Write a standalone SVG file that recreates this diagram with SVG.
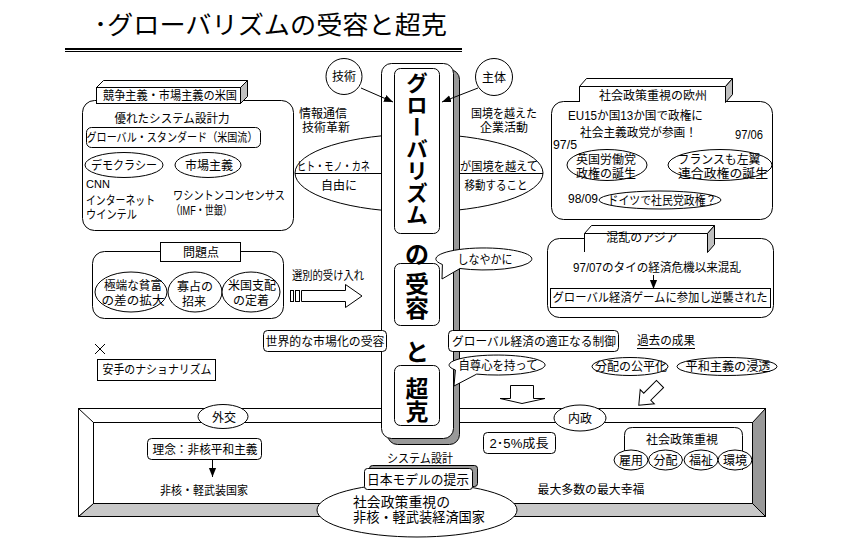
<svg xmlns="http://www.w3.org/2000/svg" width="844" height="542" viewBox="0 0 844 542">
<style>
text{font-family:'Liberation Sans','Noto Sans CJK JP','Noto Sans CJK SC',sans-serif;font-size:12px;fill:#000}
.m{text-anchor:middle}
.b{fill:#fff;stroke:#000;stroke-width:1}
.n{fill:none;stroke:#000;stroke-width:1}
.g{fill:#c0c0c0;stroke:#000;stroke-width:1}
.d{fill:#999;stroke:#000;stroke-width:1}
.bd{font-family:'Noto Sans CJK JP',sans-serif;font-weight:bold}
.v{writing-mode:vertical-rl}
</style>
<defs>
<marker id="ah" viewBox="0 0 10 10" refX="10" refY="5" markerWidth="9" markerHeight="9" orient="auto" markerUnits="userSpaceOnUse"><path d="M0,1 L10,5 L0,9 Z" fill="#000"/></marker>
</defs>
<rect width="844" height="542" fill="#fff"/>

<g id="title">
<text x="94" y="34" style="font-size:25px;font-family:'Noto Sans CJK JP',sans-serif" textLength="353" lengthAdjust="spacingAndGlyphs">･グローバリズムの受容と超克</text>
<rect x="65" y="48" width="397" height="2" fill="#000"/>
<rect x="65" y="51" width="397" height="1" fill="#000"/>
</g>

<g id="frame">
<rect x="78.5" y="408.5" width="687" height="108" class="b"/>
<polygon points="78.5,516.5 93.5,503.5 752.5,503.5 765.5,516.5" fill="#c8c8c8" stroke="#000"/>
<polygon points="765.5,408.5 765.5,516.5 752.5,503.5 752.5,422.5" class="d"/>
<polygon points="78.5,408.5 93.5,422.5 93.5,503.5 78.5,516.5" class="b"/>
<rect x="93.5" y="422.5" width="659" height="81" class="b"/>
</g>

<g id="flow-ellipse">
<ellipse cx="419" cy="173" rx="124" ry="39" class="b"/>
<line x1="295" y1="173.5" x2="543" y2="173.5" class="n"/>
<text x="297" y="171" textLength="73" lengthAdjust="spacingAndGlyphs">ヒト・モノ・カネ</text>
<text x="339" y="189.5" class="m">自由に</text>
<text x="460" y="171" textLength="78" lengthAdjust="spacingAndGlyphs">が国境を越えて</text>
<text x="496" y="189.5" class="m" textLength="63" lengthAdjust="spacingAndGlyphs">移動すること</text>
</g>

<g id="column">
<rect x="387.5" y="69.5" width="72" height="375" rx="10" class="d"/>
<rect x="381.5" y="63.5" width="72" height="375" rx="10" class="b"/>
<rect x="394.5" y="68.5" width="45" height="165" rx="6" class="b"/>
<rect x="394.5" y="263.5" width="45" height="62" rx="6" class="b"/>
<rect x="394.5" y="365.5" width="45" height="60" rx="6" class="b"/>
<text x="417" y="72" class="bd v" style="font-size:22px">グローバリズム</text>
<text x="417" y="263" class="bd m" style="font-size:24px">の</text>
<text x="417" y="272" class="bd v" style="font-size:24px">受容</text>
<text x="417" y="361" class="bd m" style="font-size:24px">と</text>
<text x="417" y="377" class="bd v" style="font-size:23px">超克</text>
</g>

<g id="gijutsu">
<circle cx="344" cy="76.5" r="18" class="b"/>
<text x="344" y="81" class="m">技術</text>
</g>
<g id="shutai">
<circle cx="494" cy="77" r="18.5" class="b"/>
<text x="494" y="81.5" class="m">主体</text>
</g>
<g id="tech-text">
<text x="323" y="117.5" class="m">情報通信</text>
<text x="326" y="131.5" class="m">技術革新</text>
</g>
<g id="corp-text">
<text x="504" y="117.5" class="m" textLength="66" lengthAdjust="spacingAndGlyphs">国境を越えた</text>
<text x="504" y="131.5" class="m">企業活動</text>
</g>

<g id="usa">
<rect x="82.5" y="100.5" width="211" height="130" rx="12" class="b"/>
<polygon points="96.5,87.5 103.5,80.5 247.5,80.5 240.5,87.5" class="b"/>
<polygon points="240.5,87.5 247.5,80.5 247.5,96.5 240.5,103.5" class="g"/>
<rect x="96.5" y="87.5" width="144" height="16" class="b"/>
<text x="170" y="99.5" class="m" textLength="134" lengthAdjust="spacingAndGlyphs">競争主義・市場主義の米国</text>
<text x="172" y="122.5" class="m" textLength="115" lengthAdjust="spacingAndGlyphs">優れたシステム設計力</text>
<rect x="86.5" y="127.5" width="174" height="20" rx="5" class="b"/>
<text x="172" y="141.5" class="m" textLength="171" lengthAdjust="spacingAndGlyphs">グローバル・スタンダード（米国流）</text>
<ellipse cx="124" cy="165" rx="39" ry="12.5" class="b"/>
<text x="124" y="169.5" class="m" textLength="66" lengthAdjust="spacingAndGlyphs">デモクラシー</text>
<ellipse cx="208" cy="165" rx="33" ry="12.5" class="b"/>
<text x="209" y="169.5" class="m">市場主義</text>
<text x="86" y="188" style="font-size:11px">CNN</text>
<text x="86" y="204.5" textLength="69" lengthAdjust="spacingAndGlyphs">インターネット</text>
<text x="86" y="218.5" textLength="51" lengthAdjust="spacingAndGlyphs">ウインテル</text>
<text x="173" y="199.5" textLength="112" lengthAdjust="spacingAndGlyphs">ワシントンコンセンサス</text>
<text x="171" y="214.5" textLength="61" lengthAdjust="spacingAndGlyphs">（IMF・世銀）</text>
</g>

<g id="europe">
<rect x="551.5" y="101.5" width="221" height="118" rx="12" class="b"/>
<polygon points="579.5,86.5 586.5,78.5 732.5,78.5 725.5,86.5" class="b"/>
<polygon points="725.5,86.5 732.5,78.5 732.5,94.5 725.5,102.5" class="g"/>
<path d="M579.5,102 V86.5 H725.5 V102" class="b"/>
<text x="653" y="99.5" class="m">社会政策重視の欧州</text>
<text x="568" y="119.5" textLength="135" lengthAdjust="spacingAndGlyphs">EU15か国13か国で政権に</text>
<text x="580" y="136.5" textLength="117" lengthAdjust="spacingAndGlyphs">社会主義政党が参画！</text>
<text x="735" y="139" textLength="28" lengthAdjust="spacingAndGlyphs">97/06</text>
<text x="553" y="149" textLength="24" lengthAdjust="spacingAndGlyphs">97/5</text>
<ellipse cx="607" cy="165" rx="40" ry="15.5" class="b"/>
<text x="606" y="163.5" class="m">英国労働党</text>
<text x="606" y="178" class="m">政権の誕生</text>
<ellipse cx="720" cy="165" rx="52" ry="15.5" class="b"/>
<text x="719" y="163.5" class="m" textLength="83" lengthAdjust="spacingAndGlyphs">フランスも左翼</text>
<text x="723" y="178" class="m" textLength="90" lengthAdjust="spacingAndGlyphs">連合政権の誕生</text>
<text x="568" y="203" textLength="30" lengthAdjust="spacingAndGlyphs">98/09</text>
<ellipse cx="660" cy="200" rx="61" ry="9" class="b"/>
<text x="662" y="204.5" class="m" textLength="109" lengthAdjust="spacingAndGlyphs">ドイツで社民党政権？</text>
</g>

<g id="asia">
<rect x="547.5" y="238.5" width="226" height="79" rx="12" class="b"/>
<polygon points="584.5,233.5 591.5,225.5 714.5,225.5 707.5,233.5" class="b"/>
<polygon points="707.5,233.5 714.5,225.5 714.5,244.5 707.5,252.5" class="g"/>
<path d="M584.5,252 V233.5 H707.5 V252" class="b"/>
<rect x="585" y="239" width="122" height="2" fill="#fff"/>
<text x="642" y="241.5" class="m">混乱のアジア</text>
<text x="657" y="271.5" class="m" textLength="168" lengthAdjust="spacingAndGlyphs">97/07のタイの経済危機以来混乱</text>
<rect x="550.5" y="288.5" width="220" height="19" class="b"/>
<text x="660" y="302" class="m" textLength="215" lengthAdjust="spacingAndGlyphs">グローバル経済ゲームに参加し逆襲された</text>
</g>

<g id="problems">
<rect x="92.5" y="251.5" width="191" height="67" rx="12" class="b"/>
<rect x="160.5" y="242.5" width="80" height="19" class="b"/>
<text x="201" y="256.5" class="m">問題点</text>
<ellipse cx="131" cy="292" rx="36" ry="20" class="b"/>
<text x="133" y="290" class="m" textLength="58" lengthAdjust="spacingAndGlyphs">極端な貧富</text>
<text x="133" y="305" class="m" textLength="63" lengthAdjust="spacingAndGlyphs">の差の拡大</text>
<ellipse cx="195" cy="292" rx="27" ry="20" class="b"/>
<text x="195" y="290.5" class="m">寡占の</text>
<text x="194" y="305.5" class="m">招来</text>
<ellipse cx="251" cy="292" rx="29" ry="20" class="b"/>
<text x="252" y="290" class="m">米国支配</text>
<text x="251" y="305" class="m">の定着</text>
</g>

<g id="selective">
<text x="292" y="279.5" textLength="72" lengthAdjust="spacingAndGlyphs">選別的受け入れ</text>
</g>

<g id="cross">
<line x1="95" y1="344" x2="105" y2="354" class="n"/>
<line x1="95" y1="354" x2="105" y2="344" class="n"/>
</g>
<g id="nationalism">
<rect x="97.5" y="359.5" width="118" height="21" class="b"/>
<text x="157" y="374" class="m" textLength="109" lengthAdjust="spacingAndGlyphs">安手のナショナリズム</text>
</g>

<g id="market">
<rect x="263.5" y="330.5" width="123" height="21" rx="4" class="b"/>
<text x="325" y="345.5" class="m" textLength="119" lengthAdjust="spacingAndGlyphs">世界的な市場化の受容</text>
</g>

<g id="control">
<rect x="448.5" y="330.5" width="170" height="21" rx="4" class="b"/>
<text x="534" y="345.5" class="m" textLength="164" lengthAdjust="spacingAndGlyphs">グローバル経済の適正なる制御</text>
</g>

<g id="flexible">
<path d="M460,268.5 A48,11 0 1 0 442.4,264.5 L442,279 Z" class="b"/>
<text x="485" y="264" class="m" textLength="55" lengthAdjust="spacingAndGlyphs">しなやかに</text>
</g>

<g id="pride">
<path d="M476.7,374.1 A48,10 0 1 0 455.4,370 L454,386 Z" class="b"/>
<text x="498" y="370" class="m" textLength="79" lengthAdjust="spacingAndGlyphs">自尊心を持って</text>
</g>

<g id="past">
<text x="666" y="344.5" class="m" textLength="58" lengthAdjust="spacingAndGlyphs">過去の成果</text>
<line x1="637" y1="348.5" x2="695" y2="348.5" class="n"/>
</g>
<g id="fair">
<ellipse cx="630" cy="366.5" rx="38" ry="9" class="b"/>
<text x="631" y="371" class="m" textLength="72" lengthAdjust="spacingAndGlyphs">分配の公平化</text>
</g>
<g id="peace">
<ellipse cx="727" cy="366.5" rx="50" ry="9" class="b"/>
<text x="728" y="371" class="m" textLength="85" lengthAdjust="spacingAndGlyphs">平和主義の浸透</text>
</g>

<g id="gaikou">
<ellipse cx="223" cy="416.5" rx="25" ry="12" class="b"/>
<text x="224" y="421.5" class="m">外交</text>
</g>
<g id="naisei">
<ellipse cx="580" cy="418" rx="26" ry="13" class="b"/>
<text x="580" y="422.5" class="m">内政</text>
</g>
<g id="rinen">
<rect x="147.5" y="438.5" width="114" height="21" rx="4" class="b"/>
<text x="205" y="453.5" class="m" textLength="105" lengthAdjust="spacingAndGlyphs">理念：非核平和主義</text>
</g>
<g id="hikaku">
<text x="204" y="494.5" class="m" textLength="88" lengthAdjust="spacingAndGlyphs">非核・軽武装国家</text>
</g>
<g id="growth">
<rect x="483.5" y="432.5" width="72" height="21" rx="4" class="b"/>
<text x="519" y="447.5" class="m" textLength="59" lengthAdjust="spacingAndGlyphs">2･5%成長</text>
</g>
<g id="social">
<path d="M624.5,470 V435.5 Q624.5,427.5 632.5,427.5 H734.5 Q742.5,427.5 742.5,435.5 V470" class="b"/>
<text x="682" y="443.5" class="m">社会政策重視</text>
<ellipse cx="631" cy="460" rx="17" ry="10" class="b"/>
<text x="631" y="464.5" class="m">雇用</text>
<ellipse cx="665.5" cy="460" rx="17" ry="10" class="b"/>
<text x="665.5" y="464.5" class="m">分配</text>
<ellipse cx="701" cy="460" rx="17" ry="10" class="b"/>
<text x="701" y="464.5" class="m">福祉</text>
<ellipse cx="735" cy="460" rx="17" ry="10" class="b"/>
<text x="735" y="464.5" class="m">環境</text>
</g>
<g id="happiness">
<text x="591" y="493.5" class="m" textLength="107" lengthAdjust="spacingAndGlyphs">最大多数の最大幸福</text>
</g>

<g id="japan">
<ellipse cx="417" cy="510" rx="100" ry="27" class="b"/>
<text x="420" y="462.5" class="m" textLength="66" lengthAdjust="spacingAndGlyphs">システム設計</text>
<rect x="369.5" y="465.5" width="108" height="21" rx="3" class="d"/>
<rect x="364.5" y="468.5" width="108" height="21" rx="3" class="b"/>
<text x="418" y="483.5" class="m" style="font-size:13px" textLength="102" lengthAdjust="spacingAndGlyphs">日本モデルの提示</text>
<text x="353" y="506.5" style="font-size:14px" textLength="97" lengthAdjust="spacingAndGlyphs">社会政策重視の</text>
<text x="353" y="521.5" style="font-size:14px" textLength="132" lengthAdjust="spacingAndGlyphs">非核・軽武装経済国家</text>
</g>

<g id="connectors">
<line x1="361" y1="88" x2="393" y2="102" class="n" marker-end="url(#ah)"/>
<line x1="478" y1="88" x2="442" y2="102" class="n" marker-end="url(#ah)"/>
<line x1="653.5" y1="275" x2="653.5" y2="289" class="n" marker-end="url(#ah)"/>
<line x1="212.5" y1="460" x2="212.5" y2="477" class="n" marker-end="url(#ah)"/>
<rect x="290.5" y="290.5" width="3" height="11" class="b"/>
<rect x="295.5" y="290.5" width="4" height="11" class="b"/>
<path d="M301.5,290.5 H345.5 V284.5 L362,296 L345.5,307.5 V301.5 H301.5 Z" class="b"/>
<path d="M510.5,385.5 H533.5 V398.5 H545 L522,403.5 L500,398.5 H510.5 Z" class="b"/>
<path d="M0,-5 H18 V-10 L30,0 L18,10 V5 H0 Z" class="b" transform="translate(660,384) rotate(135)"/>
</g>
</svg>
